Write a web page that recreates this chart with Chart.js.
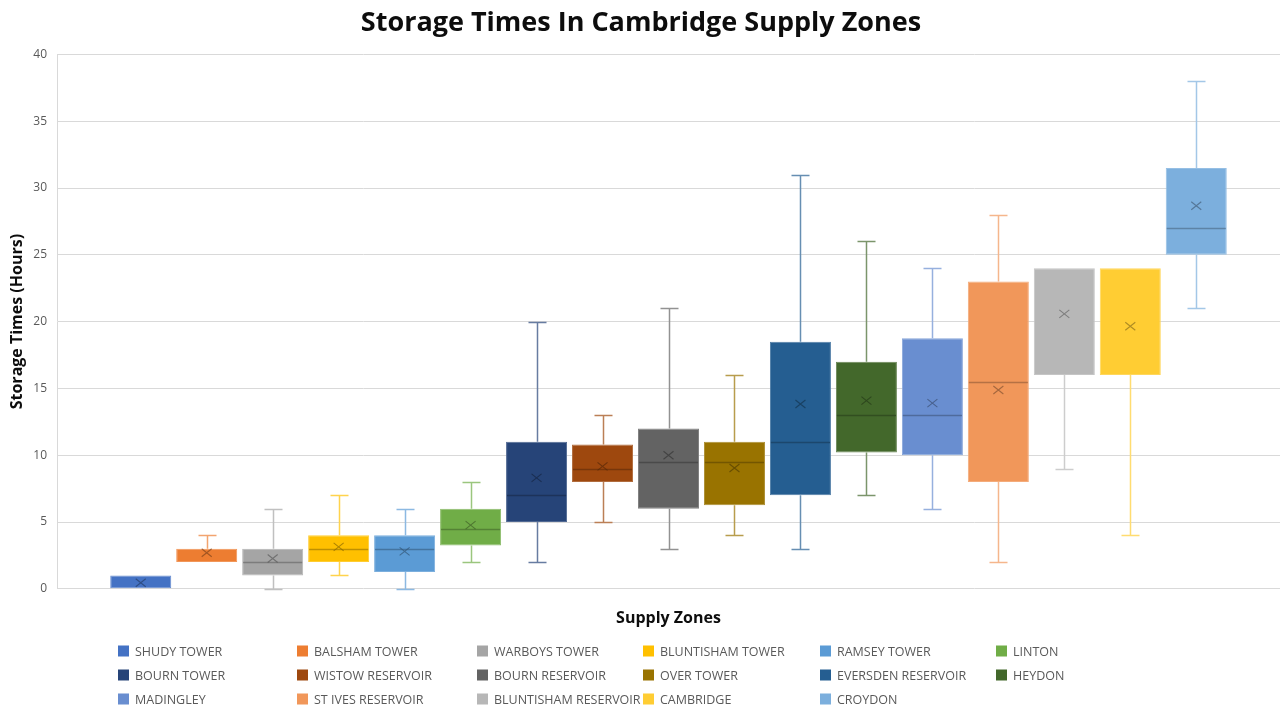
<!DOCTYPE html>
<html>
<head>
<meta charset="utf-8">
<title>Storage Times In Cambridge Supply Zones</title>
<script src="https://cdn.jsdelivr.net/npm/chart.js@4/dist/chart.umd.min.js"></script>
<style>
  html, body { margin: 0; padding: 0; background: #ffffff; }
  #wrap { position: relative; width: 1285px; height: 636px; }
  #legend { position: absolute; left: 0; top: 0; width: 1285px; height: 709px; pointer-events: none;
            font-family: "Open Sans", sans-serif; font-size: 12.5px; color: #595959; }
  .item { position: absolute; display: flex; align-items: center; white-space: nowrap; transform: translateY(-50%); }
  .sw { width: 11px; height: 11px; margin-right: 6px; flex: none; }
</style>
</head>
<body>
<div id="wrap"><canvas id="chart" width="1285" height="636"></canvas></div>
<div id="legend"></div>
<script>
// Storage-time statistics (hours) per supply zone
const zoneNames = [
  'SHUDY TOWER', 'BALSHAM TOWER', 'WARBOYS TOWER', 'BLUNTISHAM TOWER', 'RAMSEY TOWER', 'LINTON',
  'BOURN TOWER', 'WISTOW RESERVOIR', 'BOURN RESERVOIR', 'OVER TOWER', 'EVERSDEN RESERVOIR', 'HEYDON',
  'MADINGLEY', 'ST IVES RESERVOIR', 'BLUNTISHAM RESERVOIR', 'CAMBRIDGE', 'CROYDON'
];
const minValues    = [0, 2,   0, 1, 0,    2,   2, 5,    3,   4,   3,    7,    6,    2,    9,  4, 21];
const q1Values     = [0, 2,   1, 2, 1.25, 3.25, 5, 8,   6,   6.25, 7,   10.2, 10,   8,    16, 16, 25];
const medianValues = [0, 3,   2, 3, 3,    4.5, 7, 9,    9.5, 9.5, 11,   13,   13,   15.5, 24, 24, 27];
const q3Values     = [1, 3,   3, 4, 4,    6,   11, 10.8, 12, 11,  18.5, 17,   18.75, 23,  24, 24, 31.5];
const maxValues    = [1, 4,   6, 7, 6,    8,   20, 13,  21,  16,  31,   26,   24,   28,   24, 24, 38];
const meanValues   = [0.45, 2.7, 2.27, 3.14, 2.8, 4.77, 8.3, 9.16, 10.0, 9.04, 13.83, 14.08, 13.9, 14.88, 20.58, 19.65, 28.67];
const yTicks = [0, 5, 10, 15, 20, 25, 30, 35, 40];

// Office-style palette, one colour per zone
const zoneColors = [
  '#4472C4', '#ED7D31', '#A5A5A5', '#FFC000', '#5B9BD5', '#70AD47',
  '#264478', '#9E480E', '#636363', '#997300', '#255E91', '#43682B',
  '#698ED0', '#F1975A', '#B7B7B7', '#FFCD33', '#7CAFDD'
];

const FONT = '"Open Sans", sans-serif';

function rgb(hex) {
  const n = parseInt(hex.slice(1), 16);
  return [(n >> 16) & 255, (n >> 8) & 255, n & 255];
}
function mix(hex, target, t, alpha) {
  const c = rgb(hex);
  const m = c.map(v => Math.round(v + (target - v) * t));
  return alpha === undefined ? `rgb(${m.join(',')})` : `rgba(${m.join(',')},${alpha})`;
}

// Whiskers and caps behind the boxes; median line and mean marker on top
const boxDecor = {
  id: 'boxDecor',
  beforeDatasetsDraw(chart) {
    const ctx = chart.ctx;
    const y = chart.scales.y;
    chart.data.datasets.forEach((ds, i) => {
      const bar = chart.getDatasetMeta(i).data[0];
      if (!bar) return;
      const cx = Math.round(bar.x) + 0.5;
      const capHalf = 9;
      ctx.save();
      ctx.strokeStyle = mix(zoneColors[i], 255, 0.3);
      ctx.lineWidth = 1.5;
      const segs = [[q3Values[i], maxValues[i]], [q1Values[i], minValues[i]]];
      segs.forEach(([from, to]) => {
        if (from === to) return;
        const y0 = y.getPixelForValue(from);
        const y1 = Math.round(y.getPixelForValue(to)) + 0.5;
        ctx.beginPath();
        ctx.moveTo(cx, y0);
        ctx.lineTo(cx, y1);
        ctx.moveTo(cx - capHalf, y1);
        ctx.lineTo(cx + capHalf, y1);
        ctx.stroke();
      });
      ctx.restore();
    });
  },
  afterDatasetsDraw(chart) {
    const ctx = chart.ctx;
    const y = chart.scales.y;
    chart.data.datasets.forEach((ds, i) => {
      const bar = chart.getDatasetMeta(i).data[0];
      if (!bar) return;
      const half = bar.width / 2;
      ctx.save();
      // median
      if (medianValues[i] > q1Values[i] && medianValues[i] < q3Values[i]) {
        const ym = Math.round(y.getPixelForValue(medianValues[i])) + 0.5;
        ctx.strokeStyle = mix(zoneColors[i], 0, 0.25);
        ctx.lineWidth = 1.5;
        ctx.beginPath();
        ctx.moveTo(bar.x - half + 1, ym);
        ctx.lineTo(bar.x + half - 1, ym);
        ctx.stroke();
      }
      // mean marker
      const yx = y.getPixelForValue(meanValues[i]);
      const s = 5;
      ctx.strokeStyle = mix(zoneColors[i], 0, 0.45, 0.7);
      ctx.lineWidth = 1.1;
      ctx.beginPath();
      ctx.moveTo(bar.x - s, yx - s * 0.8);
      ctx.lineTo(bar.x + s, yx + s * 0.8);
      ctx.moveTo(bar.x + s, yx - s * 0.8);
      ctx.lineTo(bar.x - s, yx + s * 0.8);
      ctx.stroke();
      ctx.restore();
    });
  }
};

const datasets = zoneNames.map((name, i) => ({
  label: name,
  data: [[q1Values[i], q3Values[i]]],
  backgroundColor: zoneColors[i],
  borderColor: mix(zoneColors[i], 255, 0.2),
  borderWidth: 1,
  borderSkipped: false,
  categoryPercentage: 0.917,
  barPercentage: 0.925
}));

new Chart(document.getElementById('chart'), {
  type: 'bar',
  data: { labels: ['Supply Zones'], datasets },
  options: {
    responsive: false,
    animation: false,
    layout: { padding: { left: 0, right: 3, top: 0, bottom: 0 } },
    plugins: {
      legend: { display: false },
      tooltip: { enabled: false },
      title: {
        display: true,
        text: 'Storage Times In Cambridge Supply Zones',
        color: '#0d0d0d',
        font: { family: FONT, size: 27, weight: 'bold' },
        padding: { top: 7, bottom: 15 }
      }
    },
    scales: {
      x: {
        offset: true,
        afterFit(scale) { scale.paddingRight = 5; },
        grid: { display: false },
        border: { display: false },
        ticks: { display: false },
        title: {
          display: true,
          text: 'Supply Zones',
          color: '#0d0d0d',
          font: { family: FONT, size: 16, weight: 'bold' },
          padding: { top: 12, bottom: 8 }
        }
      },
      y: {
        min: 0,
        max: 40,
        afterBuildTicks(scale) { scale.ticks = yTicks.map(v => ({ value: v })); },
        afterFit(scale) { scale.width = 57; },
        ticks: { color: '#595959', padding: 10, font: { family: FONT, size: 12 } },
        grid: { color: '#d9d9d9', drawTicks: false },
        border: { display: true, color: '#d9d9d9' },
        title: {
          display: true,
          text: 'Storage Times (Hours)',
          color: '#0d0d0d',
          font: { family: FONT, size: 16, weight: 'bold' },
          padding: { top: 8, bottom: 0 }
        }
      }
    }
  },
  plugins: [boxDecor]
});

// Legend in six columns beneath the plot
const legendCols = [118, 297, 477, 643, 820, 996];
const legendRows = [651, 675, 699];
const legend = document.getElementById('legend');
zoneNames.forEach((name, i) => {
  const item = document.createElement('div');
  item.className = 'item';
  item.style.left = legendCols[i % 6] + 'px';
  item.style.top = legendRows[Math.floor(i / 6)] + 'px';
  const sw = document.createElement('span');
  sw.className = 'sw';
  sw.style.background = zoneColors[i];
  const tx = document.createElement('span');
  tx.textContent = name;
  item.appendChild(sw);
  item.appendChild(tx);
  legend.appendChild(item);
});
</script>
</body>
</html>
